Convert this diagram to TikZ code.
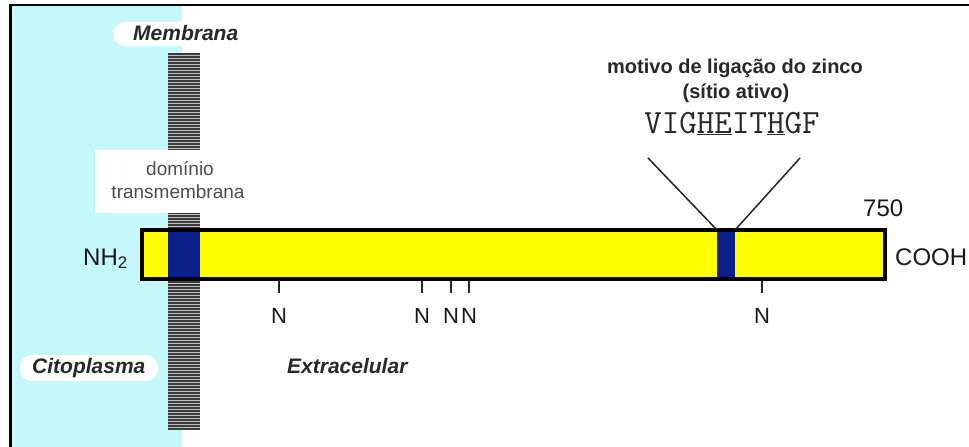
\documentclass[tikz,border=0pt]{standalone}
\usepackage{fontspec}
\setmainfont{Liberation Sans}
\definecolor{cyanbg}{RGB}{196,248,251}
\definecolor{navyblue}{RGB}{12,32,140}
\definecolor{baryellow}{RGB}{255,255,0}
\definecolor{txt}{RGB}{40,40,40}
\definecolor{stripedark}{RGB}{60,60,60}
\definecolor{stripelight}{RGB}{190,190,190}
\begin{document}
\begin{tikzpicture}[x=1pt,y=-1pt,
  every node/.style={inner sep=0pt},
  region/.style={font=\fontsize{21}{24}\selectfont\bfseries\itshape, text=txt, anchor=base west},
  pill/.style={fill=white, rounded corners=12pt},
  plain/.style={font=\fontsize{24}{28}\selectfont, text=black!90, anchor=base west},
  nlabel/.style={font=\fontsize{22}{26}\selectfont, text=black!90, anchor=base},
  motif/.style={font=\fontsize{20}{25}\selectfont\bfseries, text=txt, anchor=base},
  tmtext/.style={font=\fontsize{19}{23}\selectfont, text=black!70, anchor=base},
  blueseg/.style={fill=navyblue, minimum height=49pt},
  tick/.style={line width=1.5pt, black!85}]
\useasboundingbox (0,0) rectangle (969,447);
\fill[white] (0,0) rectangle (969,447);
% cytoplasm side
\fill[cyanbg] (12,6) rectangle (182,447);
% frame
\draw[line width=2.5pt] (10.5,447) -- (10.5,5) -- (969,5);
% membrane stripes
\fill[stripelight] (168,53) rectangle (200,430);
\foreach \yy in {54,57,...,429} {\draw[stripedark, line width=1.8pt] (168,\yy) -- (200,\yy);}
% labels with pills
\fill[pill] (113,22) rectangle (262,46);
\node[region] (membrana) at (133,40) {Membrana};
\fill[pill] (20,355) rectangle (158,381);
\node[region] (cito) at (32,373) {Citoplasma};
\node[region] (extra) at (287,373) {Extracelular};
% transmembrane label box
\fill[white] (95,150) rectangle (265,213);
\node[tmtext] (tmlabel1) at (180,175) {domínio};
\node[tmtext] (tmlabel2) at (178,198) {transmembrana};
% protein bar
\node[fill=baryellow, minimum width=743pt, minimum height=49pt] (bar) at (513.5,254.5) {};
\node[blueseg, minimum width=32pt] (tm) at (184,254.5) {};
\node[blueseg, minimum width=18pt] (site) at (726,254.5) {};
\draw[line width=4pt] (bar.north west) rectangle (bar.south east);
% ends
\node[plain] (nh2) at (83,265) {NH\textsubscript{2}};
\node[plain] (cooh) at (895,265) {COOH};
\node[plain] (n750) at (863,216) {750};
% glycosylation sites
\foreach \xx/\nm in {279/g1,422/g2,451/g3,469/g4,762/g5} {
  \coordinate (t\nm) at (\xx,281);
  \node[nlabel] (\nm) at (\xx,323) {N};
  \draw[tick] (t\nm) -- ++(0,12);
}
% zinc binding motif
\node[motif] (motif1) at (735,73) {motivo de ligação do zinco};
\node[motif] (motif2) at (736,98) {(sítio ativo)};
\node[font=\fontsize{34}{38}\selectfont\ttfamily, text=txt, anchor=base] (seq) at (732,133) {VIG\underline{HE}IT\underline{H}GF};
\coordinate (ll) at (648,158);
\coordinate (lr) at (800,158);
\draw[line width=1.5pt, black!85] (ll) -- (site.north west);
\draw[line width=1.5pt, black!85] (lr) -- (site.north east);
\end{tikzpicture}
\end{document}
